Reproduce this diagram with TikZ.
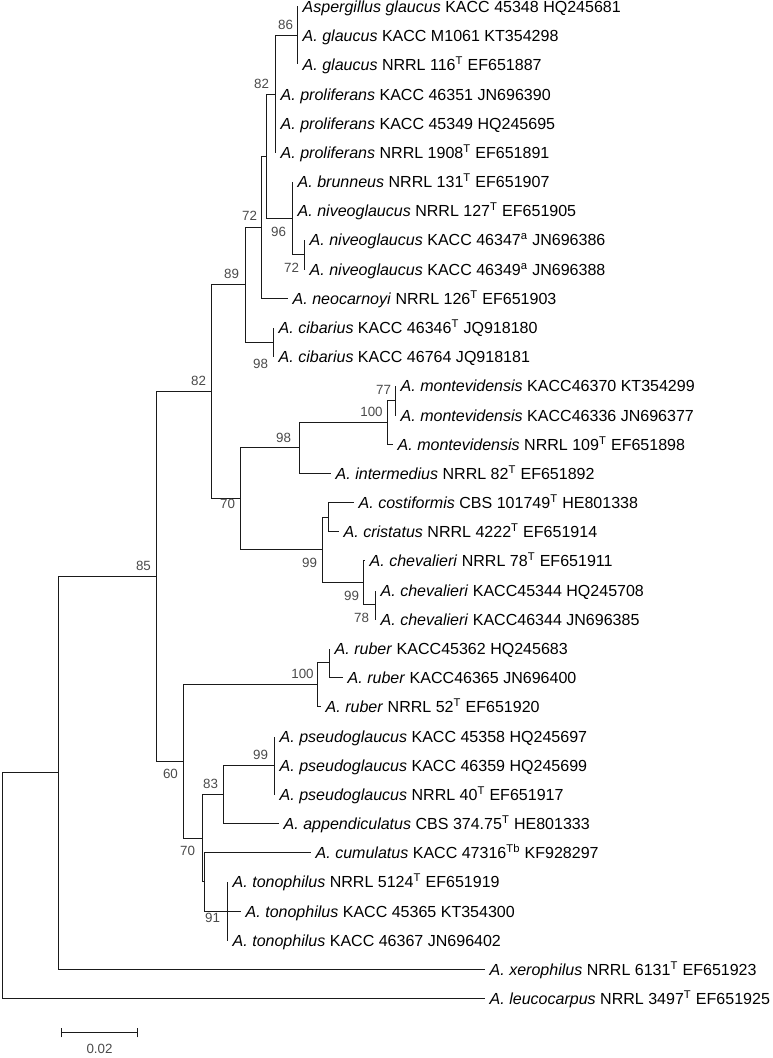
\documentclass[tikz,border=0pt]{standalone}
\usepackage{fontspec}
\setmainfont{Liberation Sans}
\usepackage{tikz}
\usetikzlibrary{positioning}
\definecolor{treeInk}{HTML}{1A1A1A}
\definecolor{bootGray}{HTML}{4A4A4A}

\begin{document}
\begin{tikzpicture}[
  x=0.025cm, y=-0.025cm,
  every node/.style={font=\fontsize{11.4}{13}\selectfont},
  taxon/.style={
    anchor=west, inner xsep=3.5pt, inner ysep=0pt,
    text height=8.2pt, text depth=0pt, text=black
  },
  boot/.style={
    font=\fontsize{9.5}{11}\selectfont,
    text=bootGray, inner sep=0pt
  },
  branch/.style={draw=treeInk, line width=1pt},
]
\useasboundingbox (0,0) rectangle (773,1058);

\begin{scope}[shift={(0.5,0.5)}]
% === INTERNAL NODES ===
\coordinate (root) at (2,885);
\coordinate (xero) at (58,772);
\coordinate (b85) at (156,576);
\coordinate (b82b) at (211,391);
\coordinate (b89) at (245,284);
\coordinate (b72a) at (261,227);
\coordinate (u1) at (266,156);
\coordinate (b82a) at (275,94);
\coordinate (b86) at (297,35);
\coordinate (b96) at (292,218);
\coordinate (b72b) at (304,254);
\coordinate (b98a) at (273,342);
\coordinate (b70a) at (240,498);
\coordinate (b98b) at (299,447);
\coordinate (b100a) at (387,422);
\coordinate (b77) at (395,400);
\coordinate (b99a) at (322,549);
\coordinate (u2) at (328,517);
\coordinate (b99b) at (363,582);
\coordinate (b78) at (375,604);
\coordinate (b60) at (183,761);
\coordinate (b100b) at (317,684);
\coordinate (u3) at (329,662);
\coordinate (b70b) at (202,838);
\coordinate (b83) at (223,794);
\coordinate (b99c) at (274,765);
\coordinate (u4) at (204,881);
\coordinate (b91) at (227,911);

% === TAXA ===
\node[taxon] (t1) at (297,6) {\textit{Aspergillus glaucus} KACC 45348 HQ245681};
\node[taxon] (t2) at (297,35) {\textit{A. glaucus} KACC M1061 KT354298};
\node[taxon] (t3) at (297,64) {\textit{A. glaucus} NRRL 116\textsuperscript{T} EF651887};
\node[taxon] (t4) at (275,94) {\textit{A. proliferans} KACC 46351 JN696390};
\node[taxon] (t5) at (275,123) {\textit{A. proliferans} KACC 45349 HQ245695};
\node[taxon] (t6) at (275,152) {\textit{A. proliferans} NRRL 1908\textsuperscript{T} EF651891};
\node[taxon] (t7) at (292,181) {\textit{A. brunneus} NRRL 131\textsuperscript{T} EF651907};
\node[taxon] (t8) at (292,210) {\textit{A. niveoglaucus} NRRL 127\textsuperscript{T} EF651905};
\node[taxon] (t9) at (304,239) {\textit{A. niveoglaucus} KACC 46347\textsuperscript{a} JN696386};
\node[taxon] (t10) at (304,269) {\textit{A. niveoglaucus} KACC 46349\textsuperscript{a} JN696388};
\node[taxon] (t11) at (287,298) {\textit{A. neocarnoyi} NRRL 126\textsuperscript{T} EF651903};
\node[taxon] (t12) at (273,327) {\textit{A. cibarius} KACC 46346\textsuperscript{T} JQ918180};
\node[taxon] (t13) at (273,356) {\textit{A. cibarius} KACC 46764 JQ918181};
\node[taxon] (t14) at (395,385) {\textit{A. montevidensis} KACC46370 KT354299};
\node[taxon] (t15) at (395,415) {\textit{A. montevidensis} KACC46336 JN696377};
\node[taxon] (t16) at (392,444) {\textit{A. montevidensis} NRRL 109\textsuperscript{T} EF651898};
\node[taxon] (t17) at (330,473) {\textit{A. intermedius} NRRL 82\textsuperscript{T} EF651892};
\node[taxon] (t18) at (353,502) {\textit{A. costiformis} CBS 101749\textsuperscript{T} HE801338};
\node[taxon] (t19) at (338,531) {\textit{A. cristatus} NRRL 4222\textsuperscript{T} EF651914};
\node[taxon] (t20) at (364,560) {\textit{A. chevalieri} NRRL 78\textsuperscript{T} EF651911};
\node[taxon] (t21) at (375,590) {\textit{A. chevalieri} KACC45344 HQ245708};
\node[taxon] (t22) at (375,619) {\textit{A. chevalieri} KACC46344 JN696385};
\node[taxon] (t23) at (329,648) {\textit{A. ruber} KACC45362 HQ245683};
\node[taxon] (t24) at (342,677) {\textit{A. ruber} KACC46365 JN696400};
\node[taxon] (t25) at (320,706) {\textit{A. ruber} NRRL 52\textsuperscript{T} EF651920};
\node[taxon] (t26) at (274,736) {\textit{A. pseudoglaucus} KACC 45358 HQ245697};
\node[taxon] (t27) at (274,765) {\textit{A. pseudoglaucus} KACC 46359 HQ245699};
\node[taxon] (t28) at (274,794) {\textit{A. pseudoglaucus} NRRL 40\textsuperscript{T} EF651917};
\node[taxon] (t29) at (278,823) {\textit{A. appendiculatus} CBS 374.75\textsuperscript{T} HE801333};
\node[taxon] (t30) at (310,852) {\textit{A. cumulatus} KACC 47316\textsuperscript{Tb} KF928297};
\node[taxon] (t31) at (227,881) {\textit{A. tonophilus} NRRL 5124\textsuperscript{T} EF651919};
\node[taxon] (t32) at (240,911) {\textit{A. tonophilus} KACC 45365 KT354300};
\node[taxon] (t33) at (227,940) {\textit{A. tonophilus} KACC 46367 JN696402};
\node[taxon] (t34) at (484,969) {\textit{A. xerophilus} NRRL 6131\textsuperscript{T} EF651923};
\node[taxon] (t35) at (484,998) {\textit{A. leucocarpus} NRRL 3497\textsuperscript{T} EF651925};

% === BRANCHES (parent |- child) ===
\foreach \p/\c in {root/xero, root/t35, xero/b85, xero/t34,
    b85/b82b, b85/b60, b82b/b89, b82b/b70a, b89/b72a, b89/b98a,
    b72a/u1, b72a/t11, u1/b82a, u1/b96,
    b82a/b86, b82a/t4, b82a/t5, b82a/t6, b86/t1, b86/t2, b86/t3,
    b96/t7, b96/t8, b96/b72b, b72b/t9, b72b/t10, b98a/t12, b98a/t13,
    b70a/b98b, b70a/b99a, b98b/b100a, b98b/t17, b100a/b77, b100a/t16,
    b77/t14, b77/t15, b99a/u2, b99a/b99b, u2/t18, u2/t19,
    b99b/t20, b99b/b78, b78/t21, b78/t22,
    b60/b100b, b60/b70b, b100b/u3, b100b/t25, u3/t23, u3/t24,
    b70b/b83, b70b/u4, b83/b99c, b83/t29, b99c/t26, b99c/t27, b99c/t28,
    u4/t30, u4/b91, b91/t31, b91/t32, b91/t33} {
  \draw[branch] (\p) |- (\c);
}

% === BOOTSTRAP VALUES ===
\node[boot] (bs86) at (285,24) {86};
\node[boot] (bs82a) at (261,83) {82};
\node[boot] (bs72a) at (249,215) {72};
\node[boot] (bs96) at (278,231) {96};
\node[boot] (bs72b) at (291,267) {72};
\node[boot] (bs89) at (231,273) {89};
\node[boot] (bs98a) at (260,363) {98};
\node[boot] (bs82b) at (198,380) {82};
\node[boot] (bs77) at (383,389) {77};
\node[boot] (bs100a) at (371,411) {100};
\node[boot] (bs98b) at (283,437) {98};
\node[boot] (bs70a) at (227,503) {70};
\node[boot] (bs99a) at (309,562) {99};
\node[boot] (bs99b) at (351,595) {99};
\node[boot] (bs78) at (361,617) {78};
\node[boot] (bs85) at (143,565) {85};
\node[boot] (bs100b) at (302,673) {100};
\node[boot] (bs60) at (170,773) {60};
\node[boot] (bs99c) at (260,754) {99};
\node[boot] (bs83) at (210,783) {83};
\node[boot] (bs70b) at (187,850) {70};
\node[boot] (bs91) at (212,917) {91};

% === SCALE BAR ===
\coordinate (bar-l) at (61,1032);
\coordinate (bar-r) at (137,1032);
\draw[branch] ([yshift=-3.5pt]bar-l) -- ([yshift=3.5pt]bar-l);
\draw[branch] ([yshift=-3.5pt]bar-r) -- ([yshift=3.5pt]bar-r);
\draw[branch] (bar-l) -- (bar-r);
\node[boot, below=8pt of bar-l, xshift=38*0.025cm] (bar-lab) {0.02};
\end{scope}

\end{tikzpicture}
\end{document}
